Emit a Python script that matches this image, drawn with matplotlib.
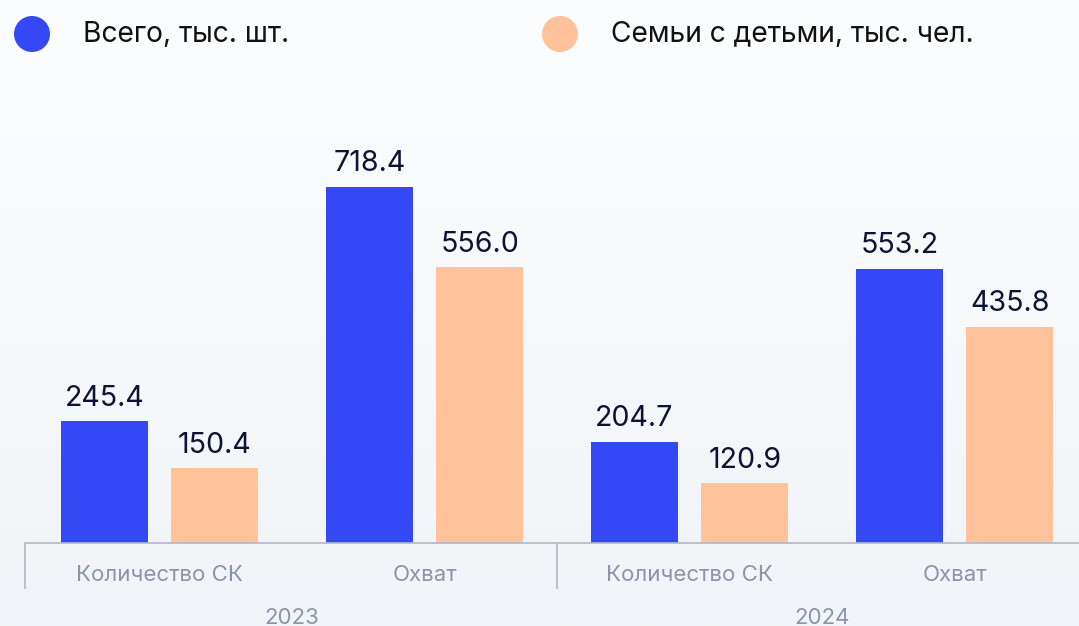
import numpy as np
from matplotlib import pyplot as plt
from matplotlib.patches import Circle
from matplotlib.transforms import blended_transform_factory, offset_copy

plt.rcParams['font.family'] = ['Inter', 'DejaVu Sans']

categories = ['Количество СК', 'Охват', 'Количество СК', 'Охват']
years = ['2023', '2024']
total_values = [245.4, 718.4, 204.7, 553.2]
family_values = [150.4, 556.0, 120.9, 435.8]
series_names = ['Всего, тыс. шт.', 'Семьи с детьми, тыс. чел.']

blue = '#3548F5'
peach = '#FFC29A'
dark = '#0D1333'
gray = '#8E93AB'
line_col = '#B3B7C6'

W, H = 1079, 626
fig = plt.figure(figsize=(W / 100, H / 100), dpi=100)

# background gradient + legend, drawn in pixel coordinates
bg = fig.add_axes([0, 0, 1, 1])
grad = np.linspace(0, 1, 256).reshape(-1, 1)
top = np.array([0xFC, 0xFD, 0xFE]) / 255
bot = np.array([0xF1, 0xF4, 0xF8]) / 255
img = top + (bot - top) * grad[..., None]
bg.imshow(img, extent=[0, W, H, 0], aspect='auto', zorder=0)
bg.set_xlim(0, W)
bg.set_ylim(H, 0)
bg.axis('off')

for (cx, col, name, tx) in [(32, blue, series_names[0], 83), (560, peach, series_names[1], 611)]:
    bg.add_patch(Circle((cx, 34), 18, color=col, lw=0))
    bg.text(tx, 42, name, fontsize=20.3, color='#111111', va='baseline', ha='left')

# main chart
ax = fig.add_axes([25 / W, 83 / H, (W - 25) / W, 443 / H])
ax.patch.set_alpha(0)
x = np.arange(len(categories))
off = 55.25 / 265
width = 87 / 265
b1 = ax.bar(x - off, total_values, width, color=blue, zorder=2)
b2 = ax.bar(x + off, family_values, width, color=peach, zorder=2)

for bars, vals in [(b1, total_values), (b2, family_values)]:
    for rect, v in zip(bars, vals):
        ax.annotate(f'{v:.1f}', (rect.get_x() + rect.get_width() / 2, v),
                    xytext=(0, 11.2), textcoords='offset points',
                    ha='center', va='baseline', fontsize=20.6, color=dark)

ax.set_yticks([])
for s in ['left', 'right', 'top']:
    ax.spines[s].set_visible(False)
ax.spines['bottom'].set_color(line_col)
ax.spines['bottom'].set_linewidth(1.2)

ax.set_xticks(x)
ax.set_xticklabels(categories, fontsize=16, color=gray)
ax.tick_params(axis='x', which='major', length=0, pad=15.5)
ax.set_xticks([-0.508, 1.5], minor=True)
ax.tick_params(axis='x', which='minor', length=33, width=1.2, color=line_col, direction='out')
# limits after the ticks, so set_xticks can't widen them
ax.set_xlim(-0.508, -0.508 + (W - 25) / 265)
ax.set_ylim(0, 894)

trans = blended_transform_factory(ax.transData, ax.transAxes)
for i, yr in enumerate(years):
    ax.text(0.5 + 2 * i, 0, yr, transform=offset_copy(trans, fig=fig, y=-81 * 0.72, units='points'),
            ha='center', va='baseline', fontsize=16, color=gray)

fig.savefig('out.png', dpi=100)
plt.close()
